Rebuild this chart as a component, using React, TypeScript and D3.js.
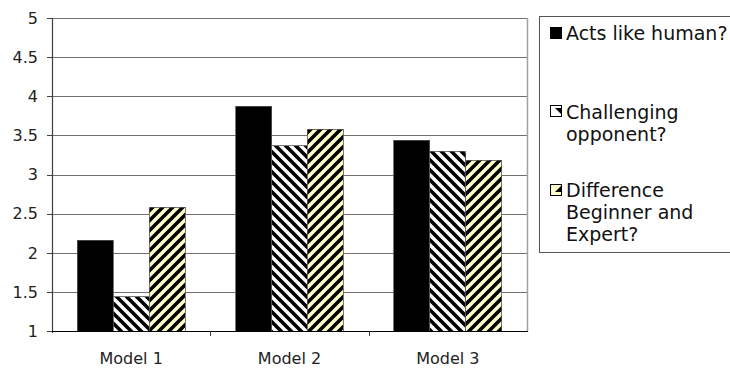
import React from "react";
import * as d3 from "d3";

const categories = ["Model 1", "Model 2", "Model 3"];
const seriesNames = ["Acts like human?", "Challenging opponent?", "Difference Beginner and Expert?"];
const seriesLegendLines = [["Acts like human?"], ["Challenging", "opponent?"], ["Difference", "Beginner and", "Expert?"]];
const actsLikeHuman = [2.16, 3.87, 3.44];
const challengingOpponent = [1.44, 3.37, 3.3];
const differenceBeginnerExpert = [2.58, 3.58, 3.18];
const yTicks = [1, 1.5, 2, 2.5, 3, 3.5, 4, 4.5, 5];

const seriesValues = [actsLikeHuman, challengingOpponent, differenceBeginnerExpert];
const fills = ["#000000", "url(#patDown)", "url(#patUp)"];
const legendFills = ["#000000", "url(#legDown)", "url(#legUp)"];

export default function App() {
  const W = 730, H = 369;
  const left = 52, right = 527, top = 18, bottom = 331;
  const y = d3.scaleLinear().domain([1, 5]).range([bottom, top]);
  const x = d3.scaleBand().domain(categories).range([left, right]).paddingInner(0.318).paddingOuter(0.159);
  const xs = d3.scaleBand().domain(seriesNames).range([0, x.bandwidth()]).padding(0);
  const step = x.step();
  const font = "'DejaVu Sans', Verdana, sans-serif";

  const legendTop = [27, 105, 184];
  const legendBase = [40, 119, 197];
  const P = 10;

  return (
    <svg width={W} height={H} style={{ position: "absolute", left: 0, top: 0, display: "block" }}>
      <defs>
        <pattern id="patDown" width={P} height={P} patternUnits="userSpaceOnUse">
          <rect width={P} height={P} fill="#ffffff" />
          <path d={`M-3,-3 L${P + 3},${P + 3} M-3,${P - 3} L3,${P + 3} M${P - 3},-3 L${P + 3},3`} stroke="#000" strokeWidth={3.6} />
        </pattern>
        <pattern id="patUp" width={P} height={P} patternUnits="userSpaceOnUse">
          <rect width={P} height={P} fill="#ffffcc" />
          <path d={`M-3,${P + 3} L${P + 3},-3 M-3,3 L3,-3 M${P - 3},${P + 3} L${P + 3},${P - 3}`} stroke="#000" strokeWidth={3.6} />
        </pattern>
        <pattern id="legDown" width={12} height={12} patternUnits="userSpaceOnUse" x={550} y={0}>
          <rect width={12} height={12} fill="#ffffff" />
          <path d="M5,0 L12,0 L12,7 Z" fill="#000" />
        </pattern>
        <pattern id="legUp" width={12} height={12} patternUnits="userSpaceOnUse" x={550} y={0}>
          <rect width={12} height={12} fill="#ffffcc" />
          <path d="M12,5 L12,12 L5,12 Z" fill="#000" />
        </pattern>
      </defs>
      <rect x={0} y={0} width={W} height={H} fill="#ffffff" />
      {yTicks.map((t) => (
        <line key={"g" + t} x1={left} x2={right} y1={Math.round(y(t)) + 0.5} y2={Math.round(y(t)) + 0.5} stroke="#707070" strokeWidth={1} />
      ))}
      <line x1={right + 0.5} x2={right + 0.5} y1={top} y2={bottom} stroke="#a0a0a0" strokeWidth={1.5} />
      {seriesValues.map((vals, si) =>
        vals.map((v, ci) => {
          const bx = (x(categories[ci]) as number) + (xs(seriesNames[si]) as number);
          const by = y(v);
          return (
            <rect
              key={si + "-" + ci}
              x={bx}
              y={by}
              width={xs.bandwidth()}
              height={bottom - by}
              fill={fills[si]}
              stroke="#555"
              strokeWidth={0.8}
              shapeRendering="crispEdges"
            />
          );
        })
      )}
      <line x1={left + 0.5} x2={left + 0.5} y1={top} y2={bottom + 2} stroke="#404040" strokeWidth={1.2} />
      {yTicks.map((t) => (
        <g key={"t" + t}>
          <line x1={left - 5} x2={left} y1={Math.round(y(t)) + 0.5} y2={Math.round(y(t)) + 0.5} stroke="#404040" />
          <text x={38} y={y(t)} dy="0.36em" textAnchor="end" fontFamily={font} fontSize={16} fill="#222">
            {t}
          </text>
        </g>
      ))}
      <line x1={left} x2={right + 1} y1={bottom + 0.5} y2={bottom + 0.5} stroke="#000" strokeWidth={1.2} />
      {categories.map((c, i) => (
        <g key={c}>
          {i > 0 && (
            <line
              x1={Math.round((x(c) as number) - (step - x.bandwidth()) / 2) + 0.5}
              x2={Math.round((x(c) as number) - (step - x.bandwidth()) / 2) + 0.5}
              y1={bottom}
              y2={bottom + 5}
              stroke="#404040"
            />
          )}
          <text x={(x(c) as number) + x.bandwidth() / 2} y={364} textAnchor="middle" fontFamily={font} fontSize={16} fill="#222">
            {c}
          </text>
        </g>
      ))}
      <rect x={539.5} y={16.5} width={200} height={236} fill="#ffffff" stroke="#555" strokeWidth={1} />
      {seriesLegendLines.map((lines, i) => (
        <g key={"l" + i}>
          <rect x={550.5} y={legendTop[i] + 0.5} width={11} height={11} fill={legendFills[i]} stroke="#000" strokeWidth={1} />
          <text x={566} y={legendBase[i]} fontFamily={font} fontSize={19} fill="#111">
            {lines.map((ln, k) => (
              <tspan key={k} x={566} dy={k === 0 ? 0 : 22}>
                {ln}
              </tspan>
            ))}
          </text>
        </g>
      ))}
    </svg>
  );
}
